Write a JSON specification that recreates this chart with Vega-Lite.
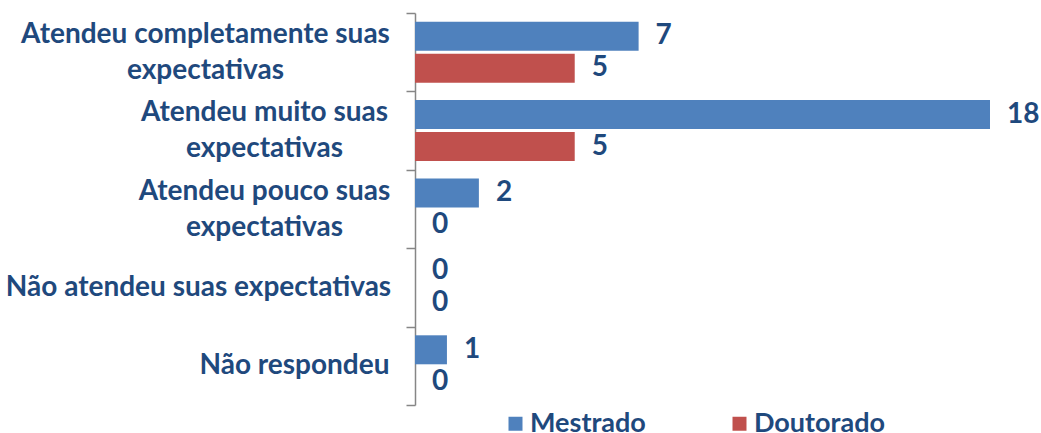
{
  "$schema": "https://vega.github.io/schema/vega-lite/v6.json",
  "width": 575,
  "height": 392,
  "autosize": "none",
  "padding": {"left": 415, "top": 13, "right": 51, "bottom": 28},
  "background": "white",
  "config": {"view": {"stroke": null}},
  "data": {
    "values": [
      {"categoria": "Atendeu completamente suas expectativas", "grupo": "Mestrado", "valor": 7},
      {"categoria": "Atendeu completamente suas expectativas", "grupo": "Doutorado", "valor": 5},
      {"categoria": "Atendeu muito suas expectativas", "grupo": "Mestrado", "valor": 18},
      {"categoria": "Atendeu muito suas expectativas", "grupo": "Doutorado", "valor": 5},
      {"categoria": "Atendeu pouco suas expectativas", "grupo": "Mestrado", "valor": 2},
      {"categoria": "Atendeu pouco suas expectativas", "grupo": "Doutorado", "valor": 0},
      {"categoria": "Não atendeu suas expectativas", "grupo": "Mestrado", "valor": 0},
      {"categoria": "Não atendeu suas expectativas", "grupo": "Doutorado", "valor": 0},
      {"categoria": "Não respondeu", "grupo": "Mestrado", "valor": 1},
      {"categoria": "Não respondeu", "grupo": "Doutorado", "valor": 0}
    ]
  },
  "encoding": {
    "y": {
      "field": "categoria",
      "type": "nominal",
      "sort": ["Atendeu completamente suas expectativas", "Atendeu muito suas expectativas", "Atendeu pouco suas expectativas", "Não atendeu suas expectativas", "Não respondeu"],
      "scale": {"paddingInner": 0, "paddingOuter": 0},
      "axis": {
        "title": null,
        "domainColor": "#868686",
        "domainWidth": 1.5,
        "tickColor": "#868686",
        "tickWidth": 1.5,
        "tickSize": 9,
        "tickBand": "extent",
        "labelFont": "Lato",
        "labelFontWeight": "bold",
        "labelFontSize": 28,
        "labelColor": "#1F497D",
        "labelLineHeight": 36,
        "labelAlign": "center",
        "labelBaseline": {
          "condition": {"test": "datum.value == 'Atendeu completamente suas expectativas' || datum.value == 'Atendeu muito suas expectativas' || datum.value == 'Atendeu pouco suas expectativas'", "value": "line-bottom"},
          "value": "middle"
        },
        "labelLimit": 0,
        "labelPadding": {
          "condition": [
            {"test": "datum.value == 'Atendeu completamente suas expectativas'", "value": 201},
            {"test": "datum.value == 'Não atendeu suas expectativas'", "value": 208},
            {"test": "datum.value == 'Não respondeu'", "value": 112}
          ],
          "value": 142
        },
        "labelExpr": "datum.value == 'Atendeu completamente suas expectativas' ? ['Atendeu completamente suas', 'expectativas'] : datum.value == 'Atendeu muito suas expectativas' ? ['Atendeu muito suas', 'expectativas'] : datum.value == 'Atendeu pouco suas expectativas' ? ['Atendeu pouco suas', 'expectativas'] : datum.label"
      }
    },
    "yOffset": {
      "field": "grupo",
      "sort": ["Mestrado", "Doutorado"],
      "scale": {"paddingInner": 0.094, "paddingOuter": 0.272}
    },
    "x": {
      "field": "valor",
      "type": "quantitative",
      "scale": {"domain": [0, 18], "nice": false},
      "axis": null
    }
  },
  "layer": [
    {
      "mark": {"type": "bar"},
      "encoding": {
        "color": {
          "field": "grupo",
          "type": "nominal",
          "scale": {"domain": ["Mestrado", "Doutorado"], "range": ["#4F81BD", "#C0504D"]},
          "legend": {
            "orient": "none",
            "legendX": 87,
            "legendY": 397,
            "direction": "horizontal",
            "title": null,
            "symbolType": "square",
            "symbolSize": 196,
            "symbolStrokeWidth": 0,
            "labelFont": "Lato",
            "labelFontWeight": "bold",
            "labelFontSize": 27,
            "labelColor": "#1F497D",
            "labelOffset": 1,
            "columnPadding": 80
          }
        }
      }
    },
    {
      "mark": {"type": "text", "align": "left", "baseline": "middle", "dx": 17, "font": "Lato", "fontWeight": "bold", "fontSize": 28, "color": "#1F497D"},
      "encoding": {"text": {"field": "valor", "type": "quantitative"}}
    }
  ]
}
